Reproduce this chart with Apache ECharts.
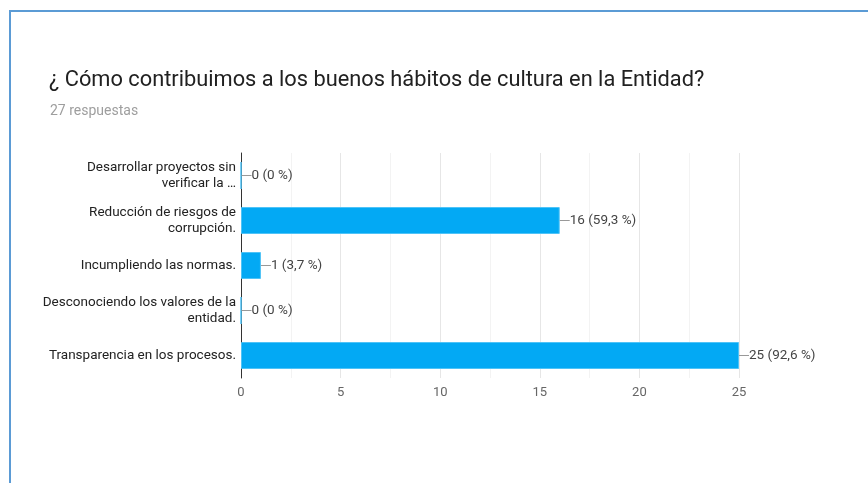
<!DOCTYPE html>
<html>
<head>
<meta charset="utf-8">
<script src="https://cdn.jsdelivr.net/npm/echarts@6/dist/echarts.min.js"></script>
<style>
html,body{margin:0;padding:0;background:#fff;}
#frame{position:absolute;left:9px;top:10px;width:880px;height:500px;border-left:2px solid #5b9bd5;border-top:2px solid #5b9bd5;box-sizing:border-box;}
#chart{position:absolute;left:0;top:0;width:868px;height:483px;}
</style>
</head>
<body>
<div id="frame"></div>
<div id="chart"></div>
<script>
var titleText = "¿ Cómo contribuimos a los buenos hábitos de cultura en la Entidad?";
var subtitleText = "27 respuestas";
var categories = [
  "Desarrollar proyectos sin\nverificar la …",
  "Reducción de riesgos de\ncorrupción.",
  "Incumpliendo las normas.",
  "Desconociendo los valores de la\nentidad.",
  "Transparencia en los procesos."
];
var counts = [0, 16, 1, 0, 25];
var percents = ["0", "59,3", "3,7", "0", "92,6"];
var xTicks = [0, 5, 10, 15, 20, 25];

var chart = echarts.init(document.getElementById('chart'));
chart.setOption({
  animation: false,
  textStyle: { fontFamily: 'Roboto, Arial, sans-serif' },
  title: [
    { text: titleText, left: 49, top: 70, padding: 0, textStyle: { fontSize: 21.8, fontWeight: 'normal', color: '#212121', fontFamily: 'Roboto, Arial, sans-serif' } },
    { text: subtitleText, left: 50, top: 104, padding: 0, textStyle: { fontSize: 14, fontWeight: 'normal', color: '#9e9e9e', fontFamily: 'Roboto, Arial, sans-serif' } }
  ],
  grid: { left: 241, right: 129, top: 153, bottom: 105 },
  xAxis: {
    type: 'value', min: xTicks[0], max: xTicks[xTicks.length - 1], interval: 5,
    axisLine: { show: false }, axisTick: { show: false },
    axisLabel: { color: '#666', fontSize: 13, margin: 8 },
    splitLine: { lineStyle: { color: '#e6e6e6' } },
    minorTick: { show: false, splitNumber: 2 },
    minorSplitLine: { show: true, lineStyle: { color: '#f3f3f3' } }
  },
  yAxis: {
    type: 'category', inverse: true, data: categories,
    axisLine: { show: true, lineStyle: { color: '#333', width: 1 } },
    axisTick: { show: false },
    axisLabel: { color: '#222', fontSize: 13.5, margin: 5, lineHeight: 16, align: 'right' }
  },
  series: [{
    type: 'bar',
    data: counts,
    barWidth: 27,
    itemStyle: { color: '#03a9f4', borderColor: '#4fc3f7', borderWidth: 1 },
    label: {
      show: true, position: 'right', distance: 0,
      color: '#444', fontSize: 13.5,
      formatter: function (p) { return '{l|}' + p.value + ' (' + percents[p.dataIndex] + ' %)'; },
      rich: { l: { width: 10, height: 1, backgroundColor: '#999' } }
    }
  }]
});
</script>
</body>
</html>
